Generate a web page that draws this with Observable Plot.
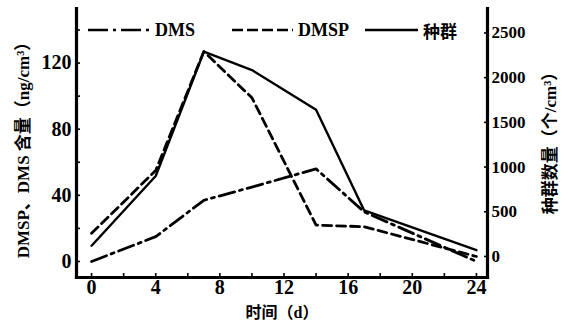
<!DOCTYPE html>
<html><head><meta charset="utf-8">
<script src="https://cdn.jsdelivr.net/npm/d3@7"></script>
<script src="https://cdn.jsdelivr.net/npm/@observablehq/plot@0.6"></script>
<style>
body{margin:0;background:#fff}
#wrap{position:relative;width:569px;height:329px;overflow:hidden}
#wrap svg text{font-family:'Liberation Serif','Noto Sans CJK SC',serif;font-weight:bold}
.lg{position:absolute;top:19px;height:22px;display:flex;align-items:center;font:bold 18px 'Liberation Serif','Noto Sans CJK SC',serif;color:#000}
.lg svg{display:block;margin-right:5px}
.cjk{font-family:'Noto Sans CJK SC',sans-serif;font-weight:bold;font-size:17px}
</style>
</head><body><div id="wrap"></div>
<script>
// Data
const days = [0, 4, 7, 10, 14, 17, 24];
const dms = [0, 15, 37, 45, 56, 30, 0];
const dmsp = [17, 55, 127, 99, 22, 21, 3];
const population = [120, 900, 2290, 2085, 1640, 515, 70];

const xTicks = [0, 4, 8, 12, 16, 20, 24];
const xMinorTicks = [0, 2, 4, 6, 8, 10, 12, 14, 16, 18, 20, 22, 24];
const leftTicks = [0, 40, 80, 120];
const leftMinorTicks = [0, 20, 40, 60, 80, 100, 120, 140];
const rightTicks = [0, 500, 1000, 1500, 2000, 2500];

const seriesNames = ["DMS", "DMSP", "种群"];
const xLabel = "时间（d）";
const yLeftLabel = "DMSP、DMS 含量（ng/cm³）";
const yRightLabel = "种群数量（个/cm³）";

// right axis (population) mapped into left-axis units
const rA = 3.03, rB = 0.05407;
const toL = r => rA + r * rB;
const fromL = v => String(Math.round((v - rA) / rB));

const dmsRows = days.map((d, i) => ({d, v: dms[i]}));
const dmspRows = days.map((d, i) => ({d, v: dmsp[i]}));
const popRows = days.map((d, i) => ({d, v: toL(population[i])}));

const font = "'Liberation Serif', 'Noto Sans CJK SC', serif";

const chart = Plot.plot({
  width: 569, height: 329,
  marginLeft: 76, marginRight: 82, marginTop: 8, marginBottom: 52,
  x: {domain: [-0.94, 24.69]},
  y: {domain: [-9.7, 153]},
  style: {fontFamily: font, fontWeight: "bold", color: "#000", background: "#fff", overflow: "visible"},
  marks: [
    Plot.line(dmsRows, {x: "d", y: "v", stroke: "#000", strokeWidth: 2.8, strokeDasharray: "16,5,3,5"}),
    Plot.line(dmspRows, {x: "d", y: "v", stroke: "#000", strokeWidth: 2.8, strokeDasharray: "9,5"}),
    Plot.line(popRows, {x: "d", y: "v", stroke: "#000", strokeWidth: 2.4}),
    Plot.frame({anchor: "left", strokeWidth: 3.2}),
    Plot.frame({anchor: "right", strokeWidth: 3.2}),
    Plot.frame({anchor: "bottom", strokeWidth: 3.2}),
    Plot.axisX(xMinorTicks, {anchor: "bottom", tickSize: -4, strokeWidth: 1.6, fill: "none", label: null}),
    Plot.axisX(xTicks, {anchor: "bottom", tickSize: 0, tickPadding: 2, fontSize: 20, label: null}),
    Plot.axisY(leftMinorTicks, {anchor: "left", tickSize: -4, strokeWidth: 1.6, fill: "none", label: null}),
    Plot.axisY(leftTicks, {anchor: "left", tickSize: 0, tickPadding: 5, fontSize: 20, label: null}),
    Plot.axisY(rightTicks.map(toL), {anchor: "right", tickSize: -4, strokeWidth: 1.6, fill: "none", label: null}),
    Plot.axisY(rightTicks.map(toL), {anchor: "right", tickSize: 0, tickPadding: 4, fontSize: 17, tickFormat: fromL, label: null}),
    Plot.text([xLabel], {frameAnchor: "bottom", dy: 40, fontSize: 16}),
    Plot.text([yLeftLabel], {frameAnchor: "left", textAnchor: "middle", rotate: -90, dx: -53, dy: 3, fontSize: 17}),
    Plot.text([yRightLabel], {frameAnchor: "right", textAnchor: "middle", rotate: -90, dx: 63, dy: -4, fontSize: 17})
  ]
});
const wrap = document.getElementById("wrap");
wrap.appendChild(chart);

// legend
const legendItems = [
  {name: seriesNames[0], left: 88, w: 62, dash: "20,5,3,5", cls: ""},
  {name: seriesNames[1], left: 232, w: 61, dash: "11,4", cls: ""},
  {name: seriesNames[2], left: 365, w: 53, dash: null, cls: "cjk"}
];
for (const it of legendItems) {
  const div = document.createElement("div");
  div.className = "lg";
  div.style.left = it.left + "px";
  div.innerHTML = `<svg width="${it.w}" height="6"><line x1="0" y1="3" x2="${it.w}" y2="3" stroke="#000" stroke-width="2.6" ${it.dash ? `stroke-dasharray="${it.dash}"` : ""}/></svg><span class="${it.cls}">${it.name}</span>`;
  wrap.appendChild(div);
}
</script>
</body></html>
